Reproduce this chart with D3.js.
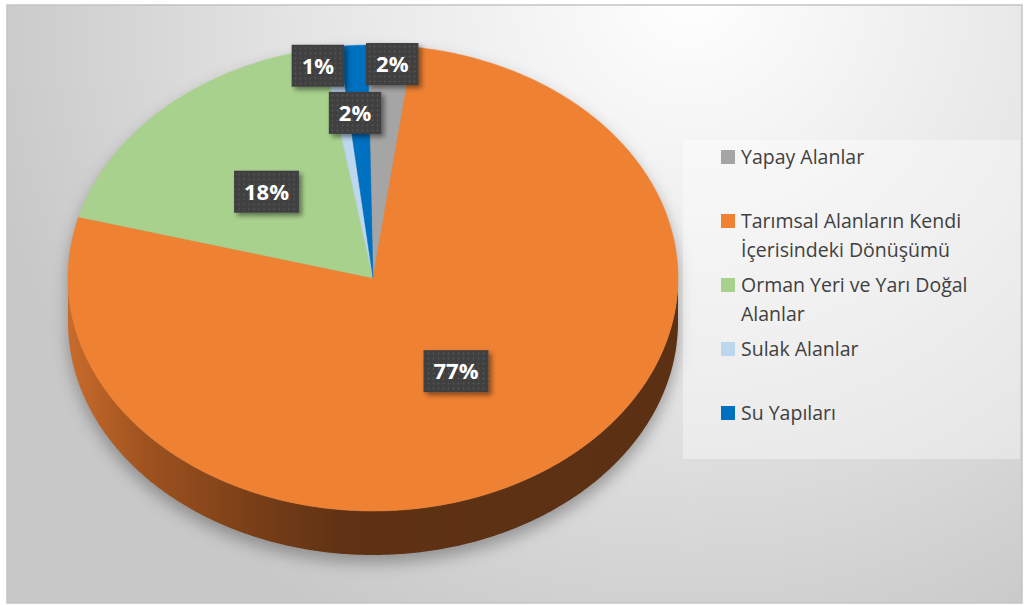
<!DOCTYPE html>
<html>
<head>
<meta charset="utf-8">
<script src="https://cdn.jsdelivr.net/npm/d3@7"></script>
<style>
  body { margin: 0; background: #fff; }
  svg { display: block; }
  .legendText { font-family: 'Open Sans', sans-serif; font-size: 19.5px; fill: #404040; }
  .labelText { font-family: 'Open Sans', sans-serif; font-size: 22px; font-weight: bold; fill: #fff; }
</style>
</head>
<body>
<div id="chart"></div>
<script>
// data
const categories = ['Yapay Alanlar', 'Tarımsal Alanların Kendi İçerisindeki Dönüşümü', 'Orman Yeri ve Yarı Doğal Alanlar', 'Sulak Alanlar', 'Su Yapıları'];
const shares = [2.4, 77.1, 18.1, 0.9, 1.5];
const pctLabels = ['2%', '77%', '18%', '1%', '2%'];
const colors = ['#a5a5a5', '#ef8133', '#a9d18e', '#bdd7ee', '#0070c0'];

// label placement (fraction of radius + small nudges like excel does)
const labelRadius = [0.92, 0.48, 0.5, 0.92, 0.71];
const labelNudge = [3, 2, -4, -16, -4];

const width = 1024, height = 605;
const cx = 373, cy = 278, rx = 305, ry = 233, depth = 44;
const startAngle = -1 * Math.PI / 180;

const svg = d3.select('#chart').append('svg').attr('width', width).attr('height', height);
const defs = svg.append('defs');

// background gradient
let bg = defs.append('radialGradient').attr('id', 'bgGrad')
    .attr('gradientUnits', 'userSpaceOnUse')
    .attr('cx', 690).attr('cy', -10).attr('r', 720);
bg.append('stop').attr('offset', '0').attr('stop-color', '#ffffff');
bg.append('stop').attr('offset', '0.55').attr('stop-color', '#e4e4e4');
bg.append('stop').attr('offset', '1').attr('stop-color', '#c8c8c8');

// side wall gradient
let side = defs.append('linearGradient').attr('id', 'sideGrad')
    .attr('gradientUnits', 'userSpaceOnUse')
    .attr('x1', cx - rx).attr('x2', cx + rx).attr('y1', 0).attr('y2', 0);
[[0, '#c96b2b'], [0.13, '#9e521f'], [0.3, '#7a3f18'], [0.45, '#5f3214'], [1, '#5c3013']].forEach(s => {
    side.append('stop').attr('offset', s[0]).attr('stop-color', s[1]);
});

// blurred shadow
defs.append('filter').attr('id', 'pieShadow').attr('x', '-20%').attr('y', '-20%').attr('width', '140%').attr('height', '140%')
    .append('feGaussianBlur').attr('stdDeviation', 8);

let boxShadow = defs.append('filter').attr('id', 'boxShadow').attr('x', '-30%').attr('y', '-30%').attr('width', '160%').attr('height', '160%');
boxShadow.append('feDropShadow').attr('dx', 3).attr('dy', 3).attr('stdDeviation', 2.5).attr('flood-color', '#000').attr('flood-opacity', 0.45);

// dotted pattern for the data labels
let pat = defs.append('pattern').attr('id', 'dots').attr('patternUnits', 'userSpaceOnUse').attr('width', 5).attr('height', 5);
pat.append('rect').attr('width', 5).attr('height', 5).attr('fill', '#3f3f3f');
pat.append('circle').attr('cx', 2.5).attr('cy', 2.5).attr('r', 0.9).attr('fill', '#585858');

// frame
svg.append('rect').attr('x', 7).attr('y', 5).attr('width', 1015).attr('height', 598)
    .attr('fill', 'url(#bgGrad)').attr('stroke', '#c4c4c4').attr('stroke-width', 1.5);

// projection of the tilted disc
function proj(a, h) {
    return [cx + rx * Math.sin(a), cy - ry * Math.cos(a) + (h || 0)];
}
function arcPts(a0, a1, h) {
    let n = Math.max(2, Math.ceil(Math.abs(a1 - a0) / (Math.PI / 360)));
    return d3.range(n + 1).map(i => proj(a0 + (a1 - a0) * i / n, h));
}
const line = d3.line();

const pie = d3.pie().sort(null).value(d => d)
    .startAngle(startAngle).endAngle(startAngle + 2 * Math.PI);
const arcs = pie(shares);

// shadow under the pie
let outline = arcPts(Math.PI / 2, 3 * Math.PI / 2, depth).concat(arcPts(3 * Math.PI / 2, 5 * Math.PI / 2, 0));
svg.append('path').attr('d', line(outline) + 'Z')
    .attr('fill', '#666').attr('opacity', 0.6)
    .attr('transform', 'translate(0,8)')
    .attr('filter', 'url(#pieShadow)');

// visible side wall (front half)
let sideG = svg.append('g');
arcs.forEach((d, i) => {
    let a0 = Math.max(d.startAngle, Math.PI / 2);
    let a1 = Math.min(d.endAngle, 3 * Math.PI / 2);
    if (a1 <= a0) return;
    let pts = arcPts(a0, a1, 0).concat(arcPts(a1, a0, depth));
    sideG.append('path').attr('d', line(pts) + 'Z')
        .attr('fill', i === 1 ? 'url(#sideGrad)' : d3.color(colors[i]).darker(1.2));
});

// top faces
svg.append('g').selectAll('path').data(arcs).join('path')
    .attr('d', d => line([[cx, cy]].concat(arcPts(d.startAngle, d.endAngle, 0))) + 'Z')
    .attr('fill', (d, i) => colors[i])
    .attr('stroke', (d, i) => colors[i]).attr('stroke-width', 0.5);

// data labels
let labels = svg.append('g').selectAll('g').data(arcs).join('g')
    .attr('transform', (d, i) => {
        let m = (d.startAngle + d.endAngle) / 2;
        let p = [cx + rx * labelRadius[i] * Math.sin(m) + labelNudge[i], cy - ry * labelRadius[i] * Math.cos(m)];
        return 'translate(' + p[0] + ',' + p[1] + ')';
    });
let lbRect = labels.append('rect').attr('fill', 'url(#dots)').attr('filter', 'url(#boxShadow)');
let lbText = labels.append('text').attr('class', 'labelText')
    .attr('text-anchor', 'middle').attr('dy', '0.36em')
    .text((d, i) => pctLabels[i]);
lbText.each(function (d, i) {
    let w = this.getComputedTextLength() + 20;
    d3.select(lbRect.nodes()[i]).attr('x', -w / 2).attr('y', -21).attr('width', w).attr('height', 42);
});

// legend
svg.append('rect').attr('x', 683).attr('y', 140).attr('width', 337).attr('height', 319)
    .attr('fill', '#ffffff').attr('fill-opacity', 0.38);

const legendY = d3.scaleLinear().domain([0, categories.length - 1]).range([150, 406]);
let legend = svg.append('g').selectAll('g').data(categories).join('g')
    .attr('transform', (d, i) => 'translate(721,' + legendY(i) + ')');
legend.append('rect').attr('width', 14).attr('height', 14).attr('fill', (d, i) => colors[i]);
legend.each(function (d) {
    let g = d3.select(this);
    let t = g.append('text').attr('class', 'legendText').attr('x', 20).attr('y', 13.5);
    let words = d.split(' '), lineText = [];
    let tspan = t.append('tspan').attr('x', 20).attr('dy', 0);
    words.forEach(w => {
        lineText.push(w);
        tspan.text(lineText.join(' '));
        if (tspan.node().getComputedTextLength() > 265 && lineText.length > 1) {
            lineText.pop();
            tspan.text(lineText.join(' '));
            lineText = [w];
            tspan = t.append('tspan').attr('x', 20).attr('dy', 29.5).text(w);
        }
    });
});
</script>
</body>
</html>
